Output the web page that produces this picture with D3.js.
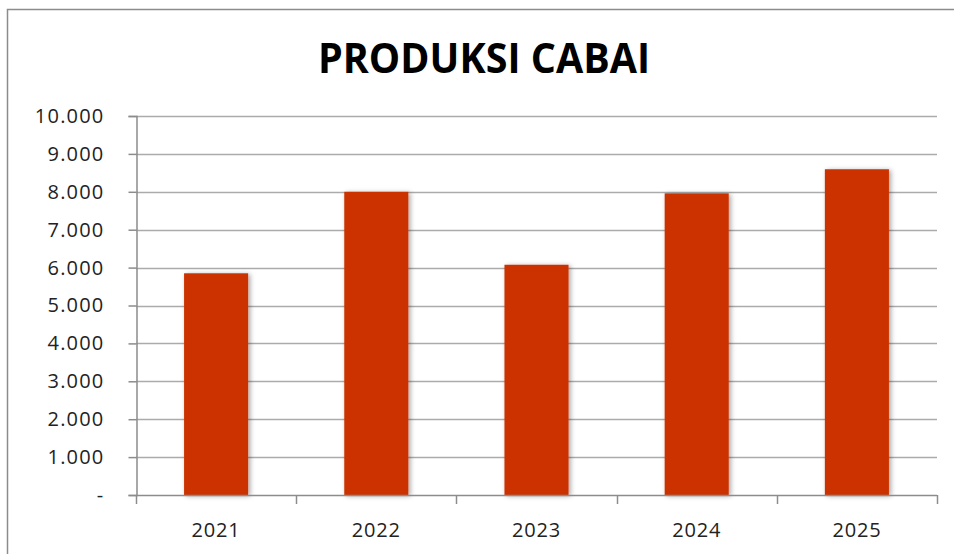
<!DOCTYPE html>
<html>
<head>
<meta charset="utf-8">
<script src="https://cdn.jsdelivr.net/npm/d3@7"></script>
<style>
  html, body { margin: 0; padding: 0; background: #fff; }
  svg { display: block; }
</style>
</head>
<body>
<svg id="chart" width="954" height="554"></svg>
<script>
const categories = ["2021", "2022", "2023", "2024", "2025"];
const values = [5850, 8000, 6075, 7960, 8595];
const yTicks = [0, 1000, 2000, 3000, 4000, 5000, 6000, 7000, 8000, 9000, 10000];
const title = "PRODUKSI CABAI";

const svg = d3.select("#chart");
const W = 954, H = 554;
const plot = { left: 136, right: 937, top: 116, bottom: 495 };

// outer chart border
svg.append("rect")
  .attr("x", 7.5).attr("y", 9.5)
  .attr("width", W).attr("height", H)
  .attr("fill", "#fff").attr("stroke", "#8c8c8c").attr("stroke-width", 1.5);

const defs = svg.append("defs");
const f = defs.append("filter").attr("id", "shadow")
  .attr("x", "-20%").attr("y", "-20%").attr("width", "140%").attr("height", "140%");
f.append("feDropShadow").attr("dx", 2).attr("dy", 1).attr("stdDeviation", 2.5)
  .attr("flood-color", "#000").attr("flood-opacity", 0.35);

const x = d3.scaleBand().domain(categories)
  .range([plot.left, plot.right]).paddingInner(0.6).paddingOuter(0.3);
const y = d3.scaleLinear().domain([0, 10000]).range([plot.bottom, plot.top]);

const fmt = v => v === 0 ? "-" : d3.format(",")(v).replace(/,/g, ".");

// gridlines
svg.append("g").selectAll("line").data(yTicks.filter(d => d > 0)).join("line")
  .attr("x1", plot.left).attr("x2", plot.right)
  .attr("y1", d => Math.round(y(d)) + 0.5).attr("y2", d => Math.round(y(d)) + 0.5)
  .attr("stroke", "#ababab").attr("stroke-width", 1.5);

// bars
svg.append("g").selectAll("rect").data(categories).join("rect")
  .attr("x", d => x(d))
  .attr("y", (d, i) => y(values[i]))
  .attr("width", x.bandwidth())
  .attr("height", (d, i) => y(0) - y(values[i]))
  .attr("fill", "#CC3300")
  .attr("filter", "url(#shadow)");

// y axis
const yAxis = d3.axisLeft(y).tickValues(yTicks).tickSize(8).tickPadding(24).tickFormat(fmt);
const gy = svg.append("g").attr("transform", `translate(${plot.left + 0.5},0)`).call(yAxis);
gy.select(".domain").attr("stroke", "#8c8c8c").attr("stroke-width", 1.5);
gy.selectAll(".tick line").attr("stroke", "#8c8c8c").attr("stroke-width", 1.5);
gy.selectAll(".tick text")
  .attr("font-family", "'Open Sans', sans-serif").attr("font-size", 20)
  .attr("letter-spacing", "1.2px")
  .attr("fill", "#222");

// x axis baseline
svg.append("line")
  .attr("x1", plot.left).attr("x2", plot.right)
  .attr("y1", plot.bottom + 0.5).attr("y2", plot.bottom + 0.5)
  .attr("stroke", "#8c8c8c").attr("stroke-width", 1.5);

// x tick marks at category boundaries
const bounds = d3.range(categories.length + 1).map(i => plot.left + i * (plot.right - plot.left) / categories.length);
svg.append("g").selectAll("line").data(bounds).join("line")
  .attr("x1", d => Math.round(d) + 0.5).attr("x2", d => Math.round(d) + 0.5)
  .attr("y1", plot.bottom).attr("y2", plot.bottom + 9)
  .attr("stroke", "#8c8c8c").attr("stroke-width", 1.5);

// x labels
svg.append("g").selectAll("text").data(categories).join("text")
  .attr("x", d => x(d) + x.bandwidth() / 2)
  .attr("y", 537)
  .attr("text-anchor", "middle")
  .attr("font-family", "'Open Sans', sans-serif").attr("font-size", 20)
  .attr("letter-spacing", "0.8px")
  .attr("fill", "#222")
  .text(d => d);

// title
svg.append("text")
  .attr("x", 484).attr("y", 73)
  .attr("text-anchor", "middle")
  .attr("font-family", "'Open Sans', sans-serif").attr("font-weight", "bold")
  .attr("font-size", 41)
  .attr("textLength", 332).attr("lengthAdjust", "spacingAndGlyphs")
  .attr("fill", "#000")
  .text(title);
</script>
</body>
</html>
